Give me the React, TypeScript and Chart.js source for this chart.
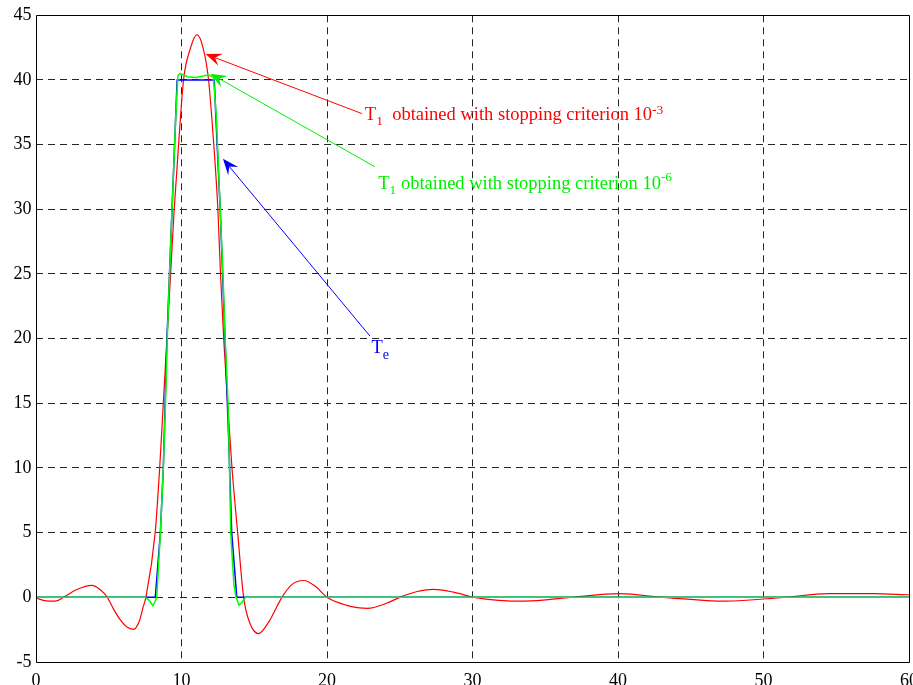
import React, { useEffect, useRef } from 'react';
import { Chart, registerables } from 'chart.js';

Chart.register(...registerables);

// Exact profile Te
const teX = [0, 8.2, 8.55, 8.75, 9.0, 9.35, 9.7, 12.25, 12.45, 12.66, 12.99, 13.25, 13.45, 13.8, 60];
const teY = [0, 0, 5, 10, 20, 30, 40, 40, 35, 30, 20, 12, 5, 0, 0];

// T1 with stopping criterion 1e-6 (green)
const t1bX = [0, 7.5, 7.8, 8.03, 8.15, 8.3, 8.55, 8.75, 8.9, 9.02, 9.18, 9.35, 9.6, 9.75, 9.9, 10.1, 10.4, 11.0, 11.5, 11.85, 12.2, 12.4, 12.66, 12.85, 13.0, 13.2, 13.3, 13.38, 13.6, 13.75, 13.95, 14.15, 14.4, 60];
const t1bY = [0, 0, -0.25, -0.65, -0.4, 0, 5, 10, 15, 20, 25, 30, 37, 40.3, 40.5, 40.4, 40.25, 40.2, 40.3, 40.4, 40.2, 37, 30, 25, 20, 15, 10, 5, 1, 0, -0.6, -0.4, 0, 0];

// T1 with stopping criterion 1e-3 (red)
const t1aX = [0, 0.7, 1.3, 1.9, 2.8, 3.85, 4.4, 4.9, 5.35, 5.8, 6.25, 6.7, 7.1, 7.35, 7.55, 8.19, 8.5, 8.75, 9.0, 9.25, 9.5, 9.8, 10.14, 10.6, 11.06, 11.5, 11.86, 12.25, 12.5, 12.68, 12.9, 13.17, 13.47, 13.86, 14.27, 14.7, 15.3, 16.0, 16.9, 17.6, 18.4, 19.2, 20.0, 21.3, 22.8, 24.0, 25.0, 26.2, 27.3, 28.7, 30.1, 33.6, 36.8, 40.1, 43.1, 47.4, 51.4, 54.5, 57.5, 60];
const t1aY = [-0.05, -0.28, -0.3, 0, 0.6, 0.93, 0.6, 0, -0.95, -1.75, -2.3, -2.47, -1.85, -0.8, 0, 5, 10, 15, 20, 25, 30, 35, 40, 42.4, 43.5, 42.4, 40, 34.5, 30, 25, 20, 15, 10, 5, 0, -2.0, -2.8, -1.9, 0, 1.0, 1.3, 0.85, 0, -0.6, -0.85, -0.5, 0, 0.45, 0.62, 0.4, 0, -0.3, 0, 0.28, 0, -0.3, 0, 0.28, 0.28, 0.2];

const xMin = 0, xMax = 60, xStep = 10;
const yMin = -5, yMax = 45, yStep = 5;

const FONT = '"Liberation Serif", "Times New Roman", serif';

type Part = { t: string; size: number; dy: number };
type Note = {
  color: string;
  tail: [number, number];
  tip: [number, number];
  textAt: [number, number];
  parts: Part[];
};

const notes: Note[] = [
  {
    color: '#ff0000',
    tail: [22.4, 37.4],
    tip: [11.66, 42.0],
    textAt: [22.6, 36.9],
    parts: [
      { t: 'T', size: 18.5, dy: 0 },
      { t: '1', size: 13.5, dy: 5 },
      { t: '  obtained with stopping criterion 10', size: 18.5, dy: 0 },
      { t: '-3', size: 13.5, dy: -6 },
    ],
  },
  {
    color: '#00ee00',
    tail: [23.29, 33.29],
    tip: [11.99, 40.48],
    textAt: [23.52, 31.6],
    parts: [
      { t: 'T', size: 18.5, dy: 0 },
      { t: '1', size: 13.5, dy: 5 },
      { t: ' obtained with stopping criterion 10', size: 18.5, dy: 0 },
      { t: '-6', size: 13.5, dy: -8 },
    ],
  },
  {
    color: '#0000ff',
    tail: [22.95, 20.2],
    tip: [12.85, 33.9],
    textAt: [23.06, 18.9],
    parts: [
      { t: 'T', size: 18.5, dy: 0 },
      { t: 'e', size: 14, dy: 6 },
    ],
  },
];

function toPts(xs: number[], ys: number[]) {
  return xs.map((x, i) => ({ x, y: ys[i] }));
}

function drawArrow(ctx: CanvasRenderingContext2D, x0: number, y0: number, x1: number, y1: number, color: string) {
  const a = Math.atan2(y1 - y0, x1 - x0);
  const c = Math.cos(a), s = Math.sin(a);
  const L = 16, W = 6.5, N = 10;
  ctx.strokeStyle = color;
  ctx.fillStyle = color;
  ctx.lineWidth = 1;
  ctx.setLineDash([]);
  ctx.beginPath();
  ctx.moveTo(x0, y0);
  ctx.lineTo(x1 - N * c, y1 - N * s);
  ctx.stroke();
  ctx.beginPath();
  ctx.moveTo(x1, y1);
  ctx.lineTo(x1 - L * c + W * s, y1 - L * s - W * c);
  ctx.lineTo(x1 - N * c, y1 - N * s);
  ctx.lineTo(x1 - L * c - W * s, y1 - L * s + W * c);
  ctx.closePath();
  ctx.fill();
}

const overlay = {
  id: 'overlay',
  afterDraw(chart: any) {
    const { ctx, chartArea, scales } = chart;
    const { left, top, right, bottom } = chartArea;
    ctx.save();
    // frame
    ctx.strokeStyle = '#000';
    ctx.lineWidth = 1;
    ctx.setLineDash([]);
    const l = Math.floor(left) + 0.5, t = Math.floor(top) + 0.5;
    const r = Math.floor(right) + 0.5, b = Math.floor(bottom) + 0.5;
    ctx.beginPath();
    ctx.rect(l, t, r - l, b - t);
    ctx.stroke();
    // annotations
    for (const n of notes) {
      const x0 = scales.x.getPixelForValue(n.tail[0]);
      const y0 = scales.y.getPixelForValue(n.tail[1]);
      const x1 = scales.x.getPixelForValue(n.tip[0]);
      const y1 = scales.y.getPixelForValue(n.tip[1]);
      drawArrow(ctx, x0, y0, x1, y1, n.color);
      let cx = scales.x.getPixelForValue(n.textAt[0]);
      const cy = scales.y.getPixelForValue(n.textAt[1]);
      ctx.fillStyle = n.color;
      ctx.textAlign = 'left';
      ctx.textBaseline = 'alphabetic';
      for (const p of n.parts) {
        ctx.font = `${p.size}px ${FONT}`;
        ctx.fillText(p.t, cx, cy + p.dy);
        cx += ctx.measureText(p.t).width;
      }
    }
    ctx.restore();
  },
};

export default function App() {
  const ref = useRef<HTMLCanvasElement | null>(null);
  useEffect(() => {
    if (!ref.current) return;
    const gridColor = (min: number, max: number) => (c: any) =>
      c.tick && (c.tick.value === min || c.tick.value === max) ? 'rgba(0,0,0,0)' : '#262626';
    const chart = new Chart(ref.current, {
      type: 'line',
      data: {
        datasets: [
          {
            label: 'T1 (1e-3)',
            data: toPts(t1aX, t1aY),
            borderColor: '#ff0000',
            borderWidth: 1.2,
            pointRadius: 0,
            cubicInterpolationMode: 'monotone',
            fill: false,
            order: 2,
          },
          {
            label: 'Te',
            data: toPts(teX, teY),
            borderColor: '#0000ff',
            borderWidth: 1.5,
            pointRadius: 0,
            tension: 0,
            fill: false,
            order: 1,
          },
          {
            label: 'T1 (1e-6)',
            data: toPts(t1bX, t1bY),
            borderColor: '#00ff00',
            borderWidth: 1.5,
            pointRadius: 0,
            tension: 0,
            fill: false,
            order: 0,
          },
        ],
      },
      options: {
        responsive: false,
        animation: false,
        devicePixelRatio: 1,
        layout: { padding: { top: 13, right: 21, left: 0, bottom: 0 } },
        plugins: { legend: { display: false }, tooltip: { enabled: false } },
        scales: {
          x: {
            type: 'linear',
            min: xMin,
            max: xMax,
            ticks: { stepSize: xStep, color: '#000', font: { family: FONT, size: 18 }, padding: 8, maxRotation: 0 },
            grid: { color: gridColor(xMin, xMax), drawTicks: false, lineWidth: 1 },
            border: { display: false, dash: [7, 5] },
            afterFit: (s: any) => { s.height = 23; },
          },
          y: {
            type: 'linear',
            min: yMin,
            max: yMax,
            ticks: { stepSize: yStep, color: '#000', font: { family: FONT, size: 18 }, padding: 4.5 },
            grid: { color: gridColor(yMin, yMax), drawTicks: false, lineWidth: 1 },
            border: { display: false, dash: [7, 5] },
            afterFit: (s: any) => { s.width = 36; },
          },
        },
      },
      plugins: [overlay],
    } as any);
    return () => chart.destroy();
  }, []);
  return (
    <div style={{ position: 'fixed', left: 0, top: 0, width: 913, height: 685, overflow: 'hidden', background: '#fff' }}>
      <canvas ref={ref} width={930} height={685} style={{ display: 'block', width: 930, height: 685 }} />
    </div>
  );
}
